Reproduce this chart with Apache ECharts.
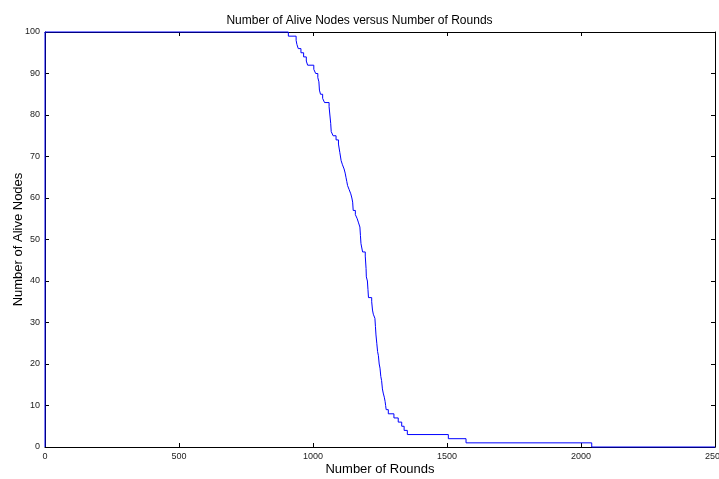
<!DOCTYPE html>
<html>
<head>
<meta charset="utf-8">
<script src="https://cdn.jsdelivr.net/npm/echarts@6/dist/echarts.min.js"></script>
<style>
html,body{margin:0;padding:0;background:#fff;}
#c{width:719px;height:479px;}
</style>
</head>
<body>
<div id="c"></div>
<script>
// Rounds at which the alive-node count changes, and the new count
var rounds = [0,0,908,937,940,945,955,965,975,980,1003,1010,1018,1022,1024,1028,1036,1043,1060,1063,1066,1068,1075,1086,1095,1100,1105,1110,1116,1120,1123,1126,1129,1135,1141,1145,1148,1150,1158,1165,1170,1175,1177,1179,1185,1195,1198,1199,1203,1205,1207,1219,1222,1225,1231,1233,1235,1238,1241,1244,1247,1250,1253,1256,1259,1262,1266,1269,1271,1273,1281,1302,1318,1331,1340,1352,1505,1571,2040,2500];
var alive  = [0,100,99,98,97,96,95,94,93,92,91,90,89,88,86,85,84,83,82,80,78,76,75,74,73,71,69,68,67,66,65,64,63,62,61,60,59,57,56,55,54,53,51,49,47,46,43,41,40,38,36,35,33,32,31,29,27,25,23,22,20,19,17,16,14,13,12,11,10,9,8,7,6,5,4,3,2,1,0,0];
var xTicks = [0,500,1000,1500,2000,2500];
var yTicks = [0,10,20,30,40,50,60,70,80,90,100];

var data = rounds.map(function(r,i){return [r, alive[i]];});
var font = 'Liberation Sans, Arial, sans-serif';
var axisLine = {show:true, onZero:false, lineStyle:{color:'#000', width:1}};
var tick = {show:true, inside:true, length:4, lineStyle:{color:'#000'}};
var plain = function(v){return String(v);};

var chart = echarts.init(document.getElementById('c'), null, {renderer:'canvas'});
chart.setOption({
  animation:false,
  backgroundColor:'#fff',
  title:{
    text:'Number of Alive Nodes versus Number of Rounds',
    left:'center', top:10,
    textStyle:{fontFamily:font, fontSize:12, fontWeight:'normal', color:'#000'}
  },
  grid:{left:45, right:4, top:32, bottom:32, containLabel:false, outerBoundsMode:'none'},
  xAxis:[{
    type:'value', min:xTicks[0], max:xTicks[xTicks.length-1], interval:500,
    name:'Number of Rounds', nameLocation:'middle', nameGap:16, nameMoveOverlap:false,
    nameTextStyle:{fontFamily:font, fontSize:13, color:'#000'},
    axisLine:axisLine, axisTick:tick,
    axisLabel:{fontFamily:font, fontSize:9, color:'#222', margin:5, formatter:plain, hideOverlap:false},
    splitLine:{show:false}
  },{
    type:'value', position:'top', min:xTicks[0], max:xTicks[xTicks.length-1], interval:500,
    axisLine:axisLine, axisTick:tick, axisLabel:{show:false}, splitLine:{show:false}
  }],
  yAxis:[{
    type:'value', min:yTicks[0], max:yTicks[yTicks.length-1], interval:10,
    name:'Number of Alive Nodes', nameLocation:'middle', nameGap:20, nameMoveOverlap:false,
    nameTextStyle:{fontFamily:font, fontSize:13, color:'#000'},
    axisLine:axisLine, axisTick:tick,
    axisLabel:{fontFamily:font, fontSize:9, color:'#222', margin:5, formatter:plain},
    splitLine:{show:false}
  },{
    type:'value', position:'right', min:yTicks[0], max:yTicks[yTicks.length-1], interval:10,
    axisLine:axisLine, axisTick:tick, axisLabel:{show:false}, splitLine:{show:false}
  }],
  series:[{
    type:'line', step:'end', data:data, showSymbol:false, symbol:'none',
    lineStyle:{color:'#0000ff', width:1}, z:5, clip:false
  }]
});
</script>
</body>
</html>
